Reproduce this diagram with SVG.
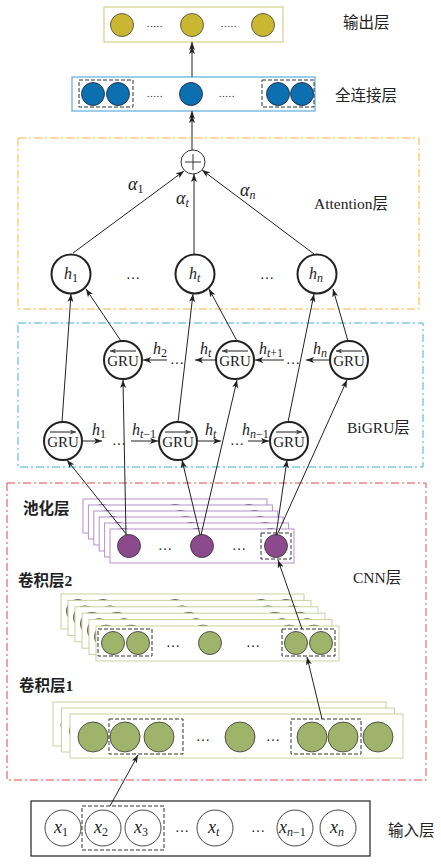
<svg xmlns="http://www.w3.org/2000/svg" xmlns:xlink="http://www.w3.org/1999/xlink" width="441" height="868" viewBox="0 0 441 868">
<style>
.ln{stroke:#222;stroke-width:1;fill:none}
.ar{marker-end:url(#ah)}
.node{fill:#fff;stroke:#222;stroke-width:2}
.in{fill:#fff;stroke:#333;stroke-width:0.9}
.dash{fill:none;stroke:#333;stroke-width:1;stroke-dasharray:4 2}
.dd{fill:none;stroke-width:1;stroke-dasharray:8 3 2 3}
.lab{font-family:"Noto Sans CJK SC","Noto Sans",sans-serif;font-size:15.5px;fill:#222}
.mix{font-family:"Liberation Serif","Noto Sans CJK SC",serif;font-size:15.5px;fill:#222}
.bold{font-weight:bold}
.it{font-family:"Liberation Serif",serif;font-style:italic;font-size:16px;fill:#222}
.big{font-size:18px}
.rm{font-family:"Liberation Serif",serif;font-size:15px;fill:#222}
.sub{font-size:12px}
.su{font-style:normal}
.dots{font-family:"Liberation Serif",serif;font-size:14px;fill:#222}
.sdots{font-family:"Liberation Sans",sans-serif;font-size:8px;fill:#333;letter-spacing:1px;font-weight:bold}
.oc{fill:#c9b631;stroke:#444;stroke-width:0.8}
.fc{fill:#0b6fb0;stroke:#223;stroke-width:0.8}
.pc{fill:#8b4a8c;stroke:#333;stroke-width:0.8}
.gc{fill:#9fb46a;stroke:#333;stroke-width:0.8}
.pbox{fill:#fff;stroke:#b68fcc;stroke-width:1}
.gbox{fill:#fff;stroke:#c6d49c;stroke-width:1}
</style>
<defs>
<marker id="ah" markerWidth="9" markerHeight="6" refX="8" refY="3" orient="auto" markerUnits="userSpaceOnUse">
<path d="M0,0 L8,3 L0,6 L2,3 z" fill="#222"/>
</marker>
<marker id="ah2" markerWidth="14" markerHeight="6" refX="12" refY="3" orient="auto" markerUnits="userSpaceOnUse">
<path d="M4,0 L12,3 L4,6 L6,3 z M0,0 L8,3 L0,6 L2,3 z" fill="#222"/>
</marker>
<marker id="sa" markerWidth="7" markerHeight="5" refX="6" refY="2.5" orient="auto" markerUnits="userSpaceOnUse">
<path d="M0,0 L6,2.5 L0,5 L1.5,2.5 z" fill="#444"/>
</marker>
<g id="poolL">
<rect class="pbox" x="0" y="0" width="184" height="34"/>
<circle class="pc" cx="19" cy="17" r="11.5"/>
<circle class="pc" cx="92" cy="17" r="11.5"/>
<circle class="pc" cx="166" cy="17" r="11.5"/>
<text class="dots" x="55" y="21" text-anchor="middle">…</text>
<text class="dots" x="129" y="21" text-anchor="middle">…</text>
</g>
<g id="conv2L">
<rect class="gbox" x="0" y="0" width="243" height="35"/>
<circle class="gc" cx="17" cy="17" r="11.5"/>
<circle class="gc" cx="42" cy="17" r="11.5"/>
<circle class="gc" cx="114" cy="17" r="11.5"/>
<circle class="gc" cx="200" cy="17" r="11.5"/>
<circle class="gc" cx="225" cy="17" r="11.5"/>
<text class="dots" x="77" y="21" text-anchor="middle">…</text>
<text class="dots" x="157" y="21" text-anchor="middle">…</text>
</g>
<g id="conv1L">
<rect class="gbox" x="0" y="0" width="333" height="44"/>
<circle class="gc" cx="23" cy="23" r="15"/>
<circle class="gc" cx="55" cy="23" r="15"/>
<circle class="gc" cx="89" cy="23" r="15"/>
<circle class="gc" cx="170" cy="23" r="15"/>
<circle class="gc" cx="242" cy="23" r="15"/>
<circle class="gc" cx="273" cy="23" r="15"/>
<circle class="gc" cx="308" cy="23" r="15"/>
<text class="dots" x="133" y="27" text-anchor="middle">…</text>
<text class="dots" x="203" y="27" text-anchor="middle">…</text>
</g>
</defs>

<rect x="0" y="0" width="441" height="868" fill="#fff"/>

<!-- layer frames -->
<g id="frames">
<rect class="dd" x="18" y="138" width="401" height="171" stroke="#f3b53c"/>
<rect class="dd" x="18" y="323" width="405" height="144" stroke="#3ab0e4"/>
<rect class="dd" x="7" y="483" width="419" height="297" stroke="#e04848"/>
</g>

<!-- output layer -->
<g id="output-layer">
<rect x="104" y="7" width="179" height="35" fill="#fff" stroke="#d4d08c" stroke-width="1.2"/>
<circle class="oc" cx="122" cy="25" r="11.5"/>
<circle class="oc" cx="192" cy="25" r="11.5"/>
<circle class="oc" cx="263" cy="25" r="11.5"/>
<text class="sdots" x="147" y="27">.....</text>
<text class="sdots" x="221" y="27">.....</text>
</g>

<!-- fully connected layer -->
<g id="fc-layer">
<rect x="72" y="77" width="243" height="34" fill="#fff" stroke="#5aaee0" stroke-width="1.2"/>
<circle class="fc" cx="93" cy="94" r="11.5"/>
<circle class="fc" cx="118" cy="94" r="11.5"/>
<circle class="fc" cx="191" cy="94" r="11.5"/>
<circle class="fc" cx="278" cy="94" r="11.5"/>
<circle class="fc" cx="302" cy="94" r="11.5"/>
<rect class="dash" x="79" y="80" width="54" height="27"/>
<rect class="dash" x="262" y="80" width="52" height="27"/>
<text class="sdots" x="147" y="97">.....</text>
<text class="sdots" x="219" y="97">.....</text>
</g>

<!-- attention -->
<g id="plus">
<circle cx="193" cy="162" r="12" fill="#fff" stroke="#333" stroke-width="1"/>
<path d="M185,162 H201 M193,154 V170" stroke="#333" stroke-width="1"/>
</g>
<g id="h1"><circle class="node" cx="71" cy="274" r="19.5"/><text class="it" x="64" y="279">h<tspan class="sub su" dy="3">1</tspan></text></g>
<g id="ht"><circle class="node" cx="195" cy="274" r="19.5"/><text class="it" x="189" y="279">h<tspan class="sub" dy="3">t</tspan></text></g>
<g id="hn"><circle class="node" cx="317" cy="274" r="19.5"/><text class="it" x="309" y="279">h<tspan class="sub" dy="3">n</tspan></text></g>
<text class="dots" x="133" y="279" text-anchor="middle">…</text>
<text class="dots" x="267" y="279" text-anchor="middle">…</text>

<!-- BiGRU -->
<g id="gru-b1"><circle class="node" cx="123" cy="360" r="19"/><line x1="136" y1="351" x2="110" y2="351" stroke="#444" stroke-width="1.2" marker-end="url(#sa)"/><text class="rm" x="123" y="366" text-anchor="middle">GRU</text></g>
<g id="gru-bt"><circle class="node" cx="235" cy="360" r="19"/><line x1="248" y1="351" x2="222" y2="351" stroke="#444" stroke-width="1.2" marker-end="url(#sa)"/><text class="rm" x="235" y="366" text-anchor="middle">GRU</text></g>
<g id="gru-bn"><circle class="node" cx="349" cy="360" r="19"/><line x1="362" y1="351" x2="336" y2="351" stroke="#444" stroke-width="1.2" marker-end="url(#sa)"/><text class="rm" x="349" y="366" text-anchor="middle">GRU</text></g>
<g id="gru-f1"><circle class="node" cx="63" cy="441" r="19"/><line x1="50" y1="432" x2="76" y2="432" stroke="#444" stroke-width="1.2" marker-end="url(#sa)"/><text class="rm" x="63" y="447" text-anchor="middle">GRU</text></g>
<g id="gru-ft"><circle class="node" cx="178" cy="441" r="19"/><line x1="165" y1="432" x2="191" y2="432" stroke="#444" stroke-width="1.2" marker-end="url(#sa)"/><text class="rm" x="178" y="447" text-anchor="middle">GRU</text></g>
<g id="gru-fn"><circle class="node" cx="289" cy="441" r="19"/><line x1="276" y1="432" x2="302" y2="432" stroke="#444" stroke-width="1.2" marker-end="url(#sa)"/><text class="rm" x="289" y="447" text-anchor="middle">GRU</text></g>

<!-- pooling stack -->
<g id="pool-layer">
<use xlink:href="#poolL" x="83" y="499"/>
<use xlink:href="#poolL" x="88.4" y="505"/>
<use xlink:href="#poolL" x="93.8" y="511"/>
<use xlink:href="#poolL" x="99.2" y="517"/>
<use xlink:href="#poolL" x="104.6" y="523"/>
<use xlink:href="#poolL" x="110" y="529"/>
<rect class="dash" x="261" y="533" width="30" height="26"/>
</g>

<!-- conv2 stack -->
<g id="conv2-layer">
<use xlink:href="#conv2L" x="61" y="594"/>
<use xlink:href="#conv2L" x="68" y="600.4"/>
<use xlink:href="#conv2L" x="75" y="606.8"/>
<use xlink:href="#conv2L" x="82" y="613.2"/>
<use xlink:href="#conv2L" x="89" y="619.6"/>
<use xlink:href="#conv2L" x="96" y="626"/>
<rect class="dash" x="98" y="629" width="54" height="27"/>
<rect class="dash" x="282" y="629" width="53" height="27"/>
</g>

<!-- conv1 stack -->
<g id="conv1-layer">
<use xlink:href="#conv1L" x="53" y="702"/>
<use xlink:href="#conv1L" x="61.5" y="708"/>
<use xlink:href="#conv1L" x="70" y="714"/>
<rect class="dash" x="109" y="719" width="74" height="35"/>
<rect class="dash" x="291" y="719" width="70" height="35"/>
</g>

<!-- input layer -->
<g id="input-layer">
<rect x="31" y="801" width="339" height="55" fill="#fff" stroke="#222" stroke-width="1.2"/>
<circle class="in" cx="63" cy="828" r="18"/>
<circle class="in" cx="103" cy="828" r="18"/>
<circle class="in" cx="143" cy="828" r="18"/>
<circle class="in" cx="215" cy="828" r="18"/>
<circle class="in" cx="295" cy="828" r="18"/>
<circle class="in" cx="338" cy="828" r="18"/>
<rect class="dash" x="82" y="806" width="82" height="44"/>
<text class="it big" x="54" y="833">x<tspan class="sub su" dy="3">1</tspan></text>
<text class="it big" x="94" y="833">x<tspan class="sub su" dy="3">2</tspan></text>
<text class="it big" x="134" y="833">x<tspan class="sub su" dy="3">3</tspan></text>
<text class="it big" x="208" y="833">x<tspan class="sub" dy="3">t</tspan></text>
<text class="it big" x="279" y="833">x<tspan class="sub" dy="3">n</tspan><tspan class="sub su">−1</tspan></text>
<text class="it big" x="330" y="833">x<tspan class="sub" dy="3">n</tspan></text>
<text class="dots" x="182" y="832" text-anchor="middle">…</text>
<text class="dots" x="258" y="832" text-anchor="middle">…</text>
</g>

<!-- connectors -->
<g id="connectors">
<line class="ln" x1="192" y1="77" x2="192" y2="42" marker-end="url(#ah2)"/>
<line class="ln" x1="192" y1="150" x2="192" y2="111" marker-end="url(#ah2)"/>
<line class="ln ar" x1="73" y1="253" x2="184" y2="171"/>
<line class="ln ar" x1="194" y1="254" x2="194" y2="174"/>
<line class="ln ar" x1="314" y1="254" x2="202" y2="170"/>
<line class="ln ar" x1="62" y1="422" x2="71" y2="294"/>
<line class="ln ar" x1="121" y1="341" x2="86" y2="289"/>
<line class="ln ar" x1="178" y1="422" x2="193" y2="294"/>
<line class="ln ar" x1="237" y1="341" x2="209" y2="289"/>
<line class="ln ar" x1="288" y1="422" x2="314" y2="294"/>
<line class="ln ar" x1="348" y1="341" x2="333" y2="289"/>
<line class="ln ar" x1="167" y1="360" x2="143" y2="360"/>
<line class="ln ar" x1="215" y1="360" x2="195" y2="360"/>
<line class="ln ar" x1="284" y1="360" x2="255" y2="360"/>
<line class="ln ar" x1="330" y1="360" x2="306" y2="360"/>
<line class="ln ar" x1="82" y1="441" x2="102" y2="441"/>
<line class="ln ar" x1="131" y1="441" x2="158" y2="441"/>
<line class="ln ar" x1="197" y1="441" x2="221" y2="441"/>
<line class="ln ar" x1="248" y1="441" x2="269" y2="441"/>
<line class="ln ar" x1="127" y1="535" x2="67" y2="460"/>
<line class="ln ar" x1="126" y1="535" x2="123" y2="380"/>
<line class="ln ar" x1="200" y1="535" x2="182" y2="460"/>
<line class="ln ar" x1="201" y1="535" x2="237" y2="380"/>
<line class="ln ar" x1="276" y1="535" x2="287" y2="460"/>
<line class="ln ar" x1="277" y1="535" x2="347" y2="380"/>
<line class="ln ar" x1="302" y1="629" x2="278" y2="560"/>
<line class="ln ar" x1="322" y1="719" x2="307" y2="657"/>
<line class="ln ar" x1="110" y1="806" x2="138" y2="755"/>
</g>

<!-- connector labels -->
<g id="connector-labels">
<text class="it big" x="128" y="190">α<tspan class="sub su" dy="3">1</tspan></text>
<text class="it big" x="176" y="204">α<tspan class="sub" dy="3">t</tspan></text>
<text class="it big" x="240" y="196">α<tspan class="sub" dy="3">n</tspan></text>
<text class="it" x="153" y="354">h<tspan class="sub su" dy="3">2</tspan></text>
<text class="dots" x="177" y="364" text-anchor="middle">…</text>
<text class="it" x="200" y="354">h<tspan class="sub" dy="3">t</tspan></text>
<text class="it" x="259" y="354">h<tspan class="sub" dy="3">t</tspan><tspan class="sub su">+1</tspan></text>
<text class="dots" x="293" y="364" text-anchor="middle">…</text>
<text class="it" x="313" y="354">h<tspan class="sub" dy="3">n</tspan></text>
<text class="it" x="92" y="435">h<tspan class="sub su" dy="3">1</tspan></text>
<text class="dots" x="119" y="445" text-anchor="middle">…</text>
<text class="it" x="132" y="435">h<tspan class="sub" dy="3">t</tspan><tspan class="sub su">−1</tspan></text>
<text class="it" x="205" y="435">h<tspan class="sub" dy="3">t</tspan></text>
<text class="dots" x="237" y="445" text-anchor="middle">…</text>
<text class="it" x="242" y="435">h<tspan class="sub" dy="3">n</tspan><tspan class="sub su">−1</tspan></text>
</g>

<!-- layer labels -->
<g id="layer-labels">
<text class="lab" x="343" y="28">输出层</text>
<text class="lab" x="335" y="101">全连接层</text>
<text class="mix" x="314" y="209">Attention层</text>
<text class="mix" x="347" y="433">BiGRU层</text>
<text class="mix" x="353" y="583">CNN层</text>
<text class="lab bold" x="23" y="514">池化层</text>
<text class="mix bold" x="18" y="586">卷积层2</text>
<text class="mix bold" x="19" y="691">卷积层1</text>
<text class="lab" x="388" y="836">输入层</text>
</g>
</svg>
